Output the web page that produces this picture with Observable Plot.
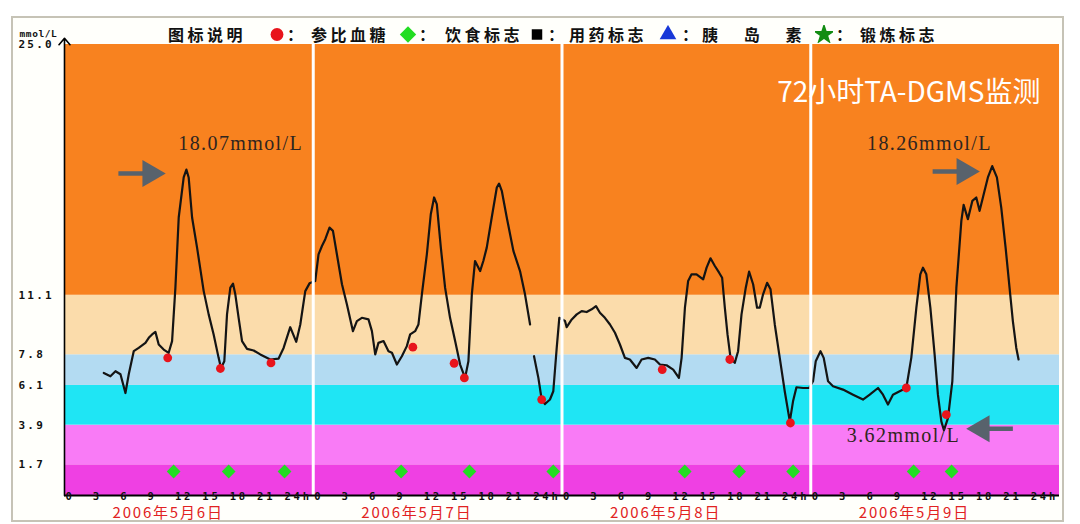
<!DOCTYPE html>
<html><head><meta charset="utf-8">
<script src="https://cdn.jsdelivr.net/npm/d3@7"></script>
<script src="https://cdn.jsdelivr.net/npm/@observablehq/plot@0.6"></script>
<style>
html,body{margin:0;padding:0;background:#fff;}
#wrap{position:relative;width:1080px;height:524px;overflow:hidden;font-family:"Noto Sans CJK SC",sans-serif;}
#panel{position:absolute;left:11px;top:16px;width:1053px;height:506px;border:2px solid #c6c3b6;background:#fffffb;box-sizing:border-box;}
#chart{position:absolute;left:0;top:0;}
#legend{position:absolute;left:0;top:0;width:1080px;height:44px;}
#legend span{position:absolute;top:24px;font-size:16px;line-height:20px;color:#111;letter-spacing:3.5px;white-space:pre;font-weight:bold;}
#legend svg{position:absolute;top:25px;}
</style></head>
<body>
<div id="wrap"><div id="panel"></div><div id="chart"></div><div id="legend"></div></div>
<script>
// ---------- data ----------
const xStart = 0, xEnd = 96;
const cgmHours = [
3.79,4.43,4.92,5.40,5.88,6.20,6.68,7.16,7.81,8.13,8.45,8.77,9.09,9.57,10.05,10.38,10.70,11.02,11.50,11.76,
11.98,12.31,12.79,13.43,13.91,14.39,14.87,15.10,15.42,15.68,16.00,16.26,16.48,16.80,17.13,17.61,18.25,18.89,19.86,20.66,
21.14,21.78,22.36,22.75,23.23,23.64,
24.19,24.51,24.84,25.16,25.57,25.90,26.28,26.77,27.25,27.83,28.21,28.69,29.33,29.66,29.98,30.29,30.78,31.26,31.59,32.07,
32.55,33.03,33.35,33.83,34.15,34.48,34.96,35.34,35.66,35.92,36.31,36.72,37.20,37.69,38.17,38.65,38.97,39.30,39.61,40.10,
40.41,40.74,41.22,41.71,41.93,42.19,42.67,43.31,43.95,44.43,44.92,
45.10,
45.30,45.72,46.04,46.36,46.84,47.16,47.49,47.74,
48.29,48.45,48.94,49.42,49.90,50.38,50.86,51.28,51.66,52.14,52.63,53.11,53.59,54.07,54.55,55.20,55.68,56.32,56.96,57.45,
58.09,58.73,59.28,59.54,59.86,60.17,60.50,60.98,61.62,61.95,62.33,62.75,63.16,63.45,63.71,63.97,64.26,64.67,64.99,65.32,
65.73,66.05,66.44,66.82,67.08,67.40,67.79,68.12,68.53,69.01,69.49,69.98,70.29,70.62,71.26,71.84,
72.22,72.48,72.94,73.25,73.67,74.15,75.11,76.08,77.04,77.69,78.49,78.97,79.45,79.93,80.58,81.22,81.70,82.19,82.57,82.83,
83.15,83.54,83.95,84.27,84.60,84.85,85.24,85.66,86.05,86.53,86.75,87.16,87.59,87.97,88.29,88.61,89.09,89.51,89.96,90.38,
90.80,91.18,91.50,91.83,92.05
];
const cgmValues = [
6.79,6.61,6.89,6.72,5.68,6.72,8.00,8.18,8.46,8.74,8.93,9.07,8.37,8.09,7.91,8.56,11.52,15.41,17.63,18.07,
17.63,15.41,13.74,11.33,10.04,8.93,7.63,7.07,7.44,10.04,11.52,11.74,11.15,9.85,8.56,8.13,8.04,7.82,7.54,7.59,
8.18,9.33,8.52,9.48,11.33,11.76,
11.89,13.37,13.83,14.21,14.85,14.67,13.37,11.71,10.59,9.11,9.67,9.85,9.76,9.11,7.82,8.46,8.56,8.00,7.91,7.26,
7.72,8.28,8.93,9.11,9.48,11.15,13.37,15.59,16.52,16.15,13.74,11.52,9.85,8.56,7.26,6.52,7.44,11.15,13.00,12.44,
13.00,13.74,15.41,17.07,17.29,16.89,15.41,13.56,12.44,11.15,9.48,
null,
7.72,6.52,5.32,5.07,5.32,5.78,8.18,9.85,
9.67,9.33,9.76,10.04,10.22,10.17,10.32,10.50,10.13,9.85,9.48,9.02,8.37,7.63,7.54,7.07,7.54,7.63,7.54,7.26,
7.22,6.98,6.52,7.63,10.41,11.89,12.26,12.26,11.98,12.63,13.15,12.72,12.35,12.07,10.41,8.93,7.63,7.35,8.00,10.04,
11.52,12.41,11.71,10.41,10.41,11.15,11.79,11.43,9.48,7.63,5.78,4.11,5.22,6.00,5.96,5.96,
6.33,7.44,8.00,7.63,6.33,6.06,5.87,5.59,5.32,5.59,5.96,5.59,5.04,5.59,5.78,5.96,7.63,10.41,12.26,12.63,
12.26,10.41,7.82,5.59,4.11,3.62,4.29,6.33,11.52,15.22,16.11,15.32,16.33,16.52,15.78,16.52,17.63,18.26,17.63,15.96,
13.74,11.52,9.67,8.18,7.54
];
const refHours  = [9.96,15.04,19.92,33.61,37.59,38.58,46.04,57.67,64.19,70.04,81.22,85.08];
const refValues = [7.63,7.04,7.35,8.22,7.33,6.52,5.32,6.98,7.54,4.02,5.96,4.48];
const dietHours = [10.53,15.84,21.23,32.48,39.07,47.16,59.84,65.09,70.30,81.93,85.59];
const dietLevel = 1.33;
const bandEdges  = [0,1.7,3.9,6.1,7.8,11.1,25];
const bandColors = ["#ef40e3","#f97bf6","#1fe5f4","#b3dbf2","#fbdcab","#f8821f"];
const yTickValues = [25.0,11.1,7.8,6.1,3.9,1.7];
const yUnit = "mmol/L";
const dayStarts = [0,24,48,72];
const dayBreaks = [24,48,72];
const hourTickText = "0  3  6  9  12 15 18 21 24h";
const dateLabels = ["2006年5月6日","2006年5月7日","2006年5月8日","2006年5月9日"];
const dateLabelHour = 10;
const noteTexts  = ["18.07mmol/L","18.26mmol/L","3.62mmol/L"];
const noteHours  = [17.0,83.45,80.95];
const noteValues = [19.5,19.5,3.34];
const arrowFrom  = [5.2,83.76,91.5];
const arrowTo    = [7.7,86.2,89.1];
const arrowHead  = [8.27,86.82,88.5];
const arrowLevel = [17.85,17.96,3.7];
const arrowDir   = [90,90,-90];
const titleText = "72小时TA-DGMS监测";
const legendTitle = "图标说明";
const legendNames = ["参比血糖","饮食标志","用药标志","胰  岛  素","锻炼标志"];
const legendColors = ["#e8141b","#22dd22","#000000","#1838d8","#128c12"];

// ---------- chart ----------
const cgmIdx = d3.range(cgmHours.length);
const refIdx = d3.range(refHours.length);
const bandIdx = d3.range(bandColors.length);
const noteIdx = d3.range(noteTexts.length);
const arrIdx = d3.range(arrowFrom.length);
const mono = "DejaVu Sans Mono";

const plot = Plot.plot({
  width: 1080, height: 524,
  marginLeft: 64, marginRight: 21, marginTop: 44, marginBottom: 29,
  x: {domain: [xStart, xEnd], axis: null},
  y: {domain: [0, 25], axis: null},
  color: {type: "identity"},
  style: {background: "transparent", overflow: "visible"},
  marks: [
    Plot.rect(bandIdx, {x1: () => xStart, x2: () => xEnd, y1: i => bandEdges[i], y2: i => bandEdges[i+1], fill: i => bandColors[i]}),
    Plot.line(cgmIdx, {x: i => cgmHours[i], y: i => cgmValues[i], stroke: "#141414", strokeWidth: 2.2, curve: "linear"}),
    Plot.ruleX(dayBreaks, {stroke: "#ffffff", strokeWidth: 3}),
    Plot.ruleY([0], {stroke: "#000", strokeWidth: 2}),
    Plot.arrow([xStart], {x1: d => d, x2: d => d, y1: () => 0, y2: () => 25.35, stroke: "#000", strokeWidth: 1.6, headLength: 8, headAngle: 80}),
    Plot.dot(refIdx, {x: i => refHours[i], y: i => refValues[i], r: 4.4, fill: "#e8141b"}),
    Plot.dot(dietHours, {x: d => d, y: () => dietLevel, symbol: "diamond2", r: 6.2, fill: "#22dd22"}),
    Plot.link(arrIdx, {x1: i => arrowFrom[i], x2: i => arrowTo[i], y1: i => arrowLevel[i], y2: i => arrowLevel[i], stroke: "#58626c", strokeWidth: 4.5}),
    Plot.dot(arrIdx, {x: i => arrowHead[i], y: i => arrowLevel[i], symbol: "triangle", r: 10, fill: "#58626c", rotate: i => arrowDir[i]}),
    Plot.text(noteIdx, {x: i => noteHours[i], y: i => noteValues[i], text: i => noteTexts[i], fontFamily: "Liberation Serif", fontSize: 20, fill: "#2f2520"}),
    Plot.text([titleText], {frameAnchor: "top-right", textAnchor: "end", dx: -19, dy: 38, fill: "#ffffff", fontSize: 28, fontFamily: "Noto Sans CJK SC"}),
    Plot.text(yTickValues, {frameAnchor: "left", y: d => d, text: d => d.toFixed(1), textAnchor: "start", dx: -46, fontFamily: mono, fontWeight: "bold", fontSize: 11, fill: "#111"}),
    Plot.text([yUnit], {frameAnchor: "top-left", textAnchor: "start", dx: -45, dy: -14, fontFamily: mono, fontWeight: "bold", fontSize: 9.5, fill: "#111"}),
    Plot.text(dayStarts, {x: d => d, text: () => hourTickText, frameAnchor: "bottom", textAnchor: "start", dx: 1, dy: 4, fontFamily: mono, fontWeight: "bold", fontSize: 10.5, fill: "#111"}),
    Plot.text(dateLabels, {x: (d, i) => dayStarts[i] + dateLabelHour, frameAnchor: "bottom", dy: 22.5, fill: "#e12222", fontSize: 15, fontFamily: "Noto Sans CJK SC"})
  ]
});
document.getElementById("chart").appendChild(plot);
const svg = d3.select(plot);
const yLabelSet = new Set(yTickValues.map(d => d.toFixed(1)));
svg.selectAll("text").each(function() {
  const t = this.textContent;
  const s = d3.select(this);
  if (t === hourTickText) s.attr("xml:space", "preserve").style("white-space", "pre").style("letter-spacing", "2.8px");
  else if (yLabelSet.has(t)) s.style("letter-spacing", "2.2px");
  else if (t === yUnit) s.style("letter-spacing", "0.6px");
  else if (noteTexts.includes(t)) s.style("letter-spacing", "1.4px");
  else if (dateLabels.includes(t)) s.style("letter-spacing", "1.8px");
});

// ---------- legend ----------
const lg = d3.select("#legend");
const symX = [277, 408, 537, 668, 824];
const colonX = [287, 419, 548, 682, 836];
const nameX = [311, 445, 569, 702, 860];
const symTypes = [d3.symbolCircle, d3.symbolDiamond2, d3.symbolSquare, d3.symbolTriangle, d3.symbolStar];
const symSizes = [130, 170, 110, 120, 150];
lg.append("span").style("left", "168px").text(legendTitle);
legendNames.forEach((name, i) => {
  const s = lg.append("svg").attr("width", 18).attr("height", 18).style("left", (symX[i] - 9) + "px");
  s.append("path").attr("transform", "translate(9,9.5)").attr("d", d3.symbol(symTypes[i], symSizes[i])()).attr("fill", legendColors[i]);
  lg.append("span").style("left", colonX[i] + "px").text("：");
  const sp = lg.append("span").style("left", nameX[i] + "px").text(name);
  if (i === 3) sp.style("word-spacing", "4px");
});
</script>
</body></html>
